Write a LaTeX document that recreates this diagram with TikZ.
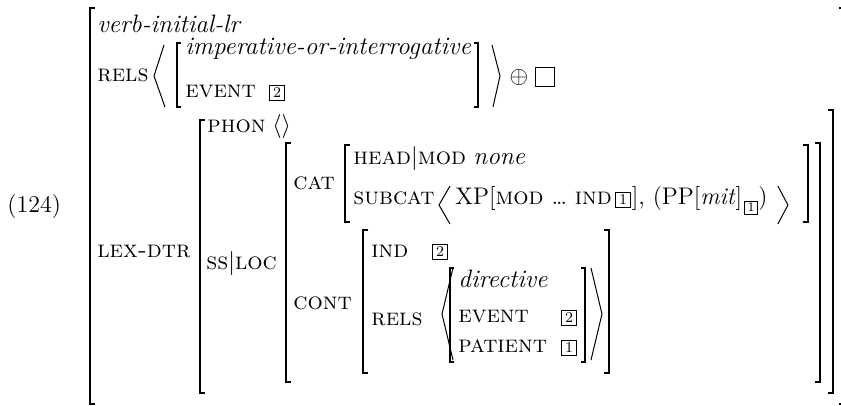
\documentclass[tikz,border=0pt]{standalone}
\usepackage{amsmath, amssymb}
\usepackage{tikz}
\usetikzlibrary{positioning, calc}

\begin{document}
\begin{tikzpicture}[x=0.5pt, y=-0.5pt,
  attr/.style={anchor=base west, inner sep=0pt, font=\fontsize{12}{14}\selectfont\scshape},
  typ/.style={anchor=base west, inner sep=0pt, font=\fontsize{12.6}{14}\selectfont\itshape},
  txt/.style={anchor=base west, inner sep=0pt, font=\fontsize{12}{14}\selectfont},
  tag/.style={draw, line width=0.4pt, inner sep=0pt, minimum size=7.5pt, font=\fontsize{7.5}{8}\selectfont},
  brk/.style={line width=1pt},
  sbrk/.style={line width=0.6pt},
  ang/.style={line width=0.5pt}]
\useasboundingbox (0,0) rectangle (841,406);

% --- AVM: LEXICAL RULE FOR VERB-INITIAL POSITION ---
\node[txt] (exnum) at (7,213) {(124)};

% LAYER 1: Outer matrix
\draw[brk] (95,8) -| (90,404) -- ++(5,0);
\draw[brk] (839,8) -| (844,404) -- ++(-5,0);
\node[typ] (lrtype) at (97,33) {verb-initial-lr};
\node[attr] (rels) at (97,82) {rels};
\draw[ang] (164,45) -- (154,76) -- (165,107);
\draw[sbrk] (181,43) -| (177,107) -- ++(4,0);
\node[typ] (imp) at (185,55) {imperative-or-interrogative};
\node[attr] (event) at (185,98) {event};
\node[tag] (tagA) at (277,92.5) {2};
\draw[sbrk] (474,43) -| (478,107) -- ++(-4,0);
\draw[ang] (492,45) -- (500,76) -- (493,107);
\node[txt, anchor=center] (plus) at (519,78) {$\oplus$};
\node[draw, line width=0.4pt, minimum size=9.5pt, inner sep=0pt] (elist) at (544.5,76.5) {};

% LAYER 2: LEX-DTR
\node[attr] (lexdtr) at (97,258) {lex-dtr};
\draw[brk] (205,120) -| (200,393) -- ++(5,0);
\draw[brk] (828,110) -| (833,393) -- ++(-5,0);
\node[attr] (phon) at (207,133) {phon};
\node[txt] (phonval) at (272,133) {$\langle\rangle$};
\node[attr] (ssloc) at (206,270) {ss$|$loc};
\draw[brk] (291,143) -| (286,382) -- ++(5,0);
\draw[brk] (815,143) -| (820,382) -- ++(-5,0);

% LAYER 3: CAT
\node[attr] (cat) at (293,190) {cat};
\draw[brk] (350,145) -| (345,222) -- ++(5,0);
\draw[brk] (803,145) -| (808,222) -- ++(-5,0);
\node[attr] (headmod) at (353,165) {head$|$mod};
\node[typ] (none) at (473,165) {none};
\node[attr] (subcat) at (353,205) {subcat};
\draw[ang] (450,186) -- (439,205) -- (450,224);
\node[txt] (xp) at (455,205) {XP[\textsc{mod}~\dots~\textsc{ind}};
\node[tag, anchor=base west] (tagB) at ([xshift=1.5pt]xp.base east) {1};
\node[txt] (mit) at ([xshift=0.3pt]tagB.base east) {],~(PP[\textit{mit}]};
\node[tag, anchor=base west, minimum size=6.5pt, font=\fontsize{6.5}{7}\selectfont] (tagC) at ([xshift=0.8pt, yshift=-3.5pt]mit.base east) {1};
\node[txt] (closep) at ([yshift=3.5pt]tagC.base east) {)};
\draw[ang] ($(closep.base east)+(10,-19)$) -- ++(10,19) -- ++(-10,19);

% LAYER 4: CONT
\node[attr] (cont) at (293,310) {cont};
\draw[brk] (368,230) -| (363,373) -- ++(5,0);
\draw[brk] (604,230) -| (609,373) -- ++(-5,0);
\node[attr] (ind) at (371,258) {ind};
\node[tag] (tagD) at (440,252) {2};
\node[attr] (rels2) at (371,326) {rels};
\draw[ang] (453,268) -- (442,314) -- (453,360);
\draw[sbrk] (454,268) -| (450,362) -- ++(4,0);
\node[typ] (dir) at (458,288) {directive};
\node[attr] (event2) at (458,322) {event};
\node[tag] (tagE) at (569,317.5) {2};
\node[attr] (patient) at (458,353) {patient};
\node[tag] (tagF) at (569,347.5) {1};
\draw[sbrk] (581,268) -| (585,362) -- ++(-4,0);
\draw[ang] (591,268) -- (602,314) -- (591,360);
\end{tikzpicture}
\end{document}
